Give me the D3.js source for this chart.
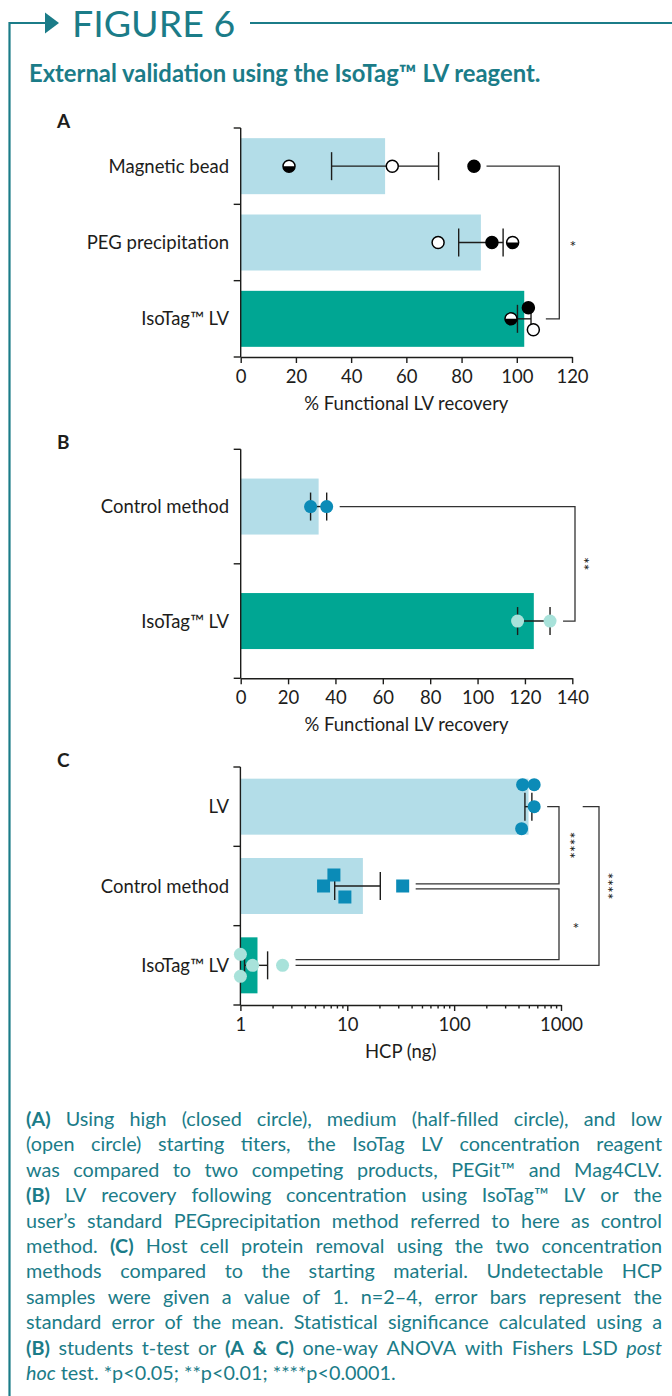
<!DOCTYPE html>
<html>
<head>
<meta charset="utf-8">
<script src="https://cdn.jsdelivr.net/npm/d3@7"></script>
<style>
  html, body { margin: 0; padding: 0; background: #fff; }
  svg { display: block; font-family: Lato, "Open Sans", sans-serif; }
</style>
</head>
<body>
<svg id="fig" width="672" height="1396"></svg>
<script>
// ---------- data ----------
// A: % functional LV recovery, one value per starting titer (high, medium, low)
var catsA = ["Magnetic bead", "PEG precipitation", "IsoTag™ LV"];
var titers = ["high", "medium", "low"];
var recoveryA = [[84.5, 17.5, 54.9], [91, 98.5, 71.5], [104.2, 97.9, 106]];
var ticksA = [0, 20, 40, 60, 80, 100, 120];
var sigA = [{ a: 0, b: 2, label: "*" }];

// B: % functional LV recovery
var catsB = ["Control method", "IsoTag™ LV"];
var recoveryB = [[29.5, 36.3], [116.9, 130.6]];
var ticksB = [0, 20, 40, 60, 80, 100, 120, 140];
var sigB = [{ a: 0, b: 1, label: "**" }];

// C: host cell protein (ng), undetectable = 1
var catsC = ["LV", "Control method", "IsoTag™ LV"];
var hcpC = [[437, 561, 561, 428], [7.5, 6, 9.5, 33], [1, 1.3, 1, 2.48]];
var ticksC = [1, 10, 100, 1000];
var sigC = [{ a: 0, b: 1, label: "****" }, { a: 1, b: 2, label: "*" }, { a: 0, b: 2, label: "****" }];

var captionLines = [
  "[(A)] Using high (closed circle), medium (half-filled circle), and low",
  "(open circle) starting titers, the IsoTag LV concentration reagent",
  "was compared to two competing products, PEGit™ and Mag4CLV.",
  "[(B)] LV recovery following concentration using IsoTag™ LV or the",
  "user’s standard PEGprecipitation method referred to here as control",
  "method. [(C)] Host cell protein removal using the two concentration",
  "methods compared to the starting material. Undetectable HCP",
  "samples were given a value of 1. n=2–4, error bars represent the",
  "standard error of the mean. Statistical significance calculated using a",
  "[(B)] students t-test or [(A & C)] one-way ANOVA with Fishers LSD {post}",
  "{hoc} test. *p<0.05; **p<0.01; ****p<0.0001."
];

// ---------- style ----------
var teal = "#1b7c88", ink = "#1d1d1b";
var lightBar = "#b3dde8", tealBar = "#00a693", blue = "#0b8bb7", mint = "#a8e2da";
var barH = 56, capHalf = 14, laneStep = 11, fontSize = 18.5;

var svg = d3.select("#fig");

// header
svg.append("path").attr("d", "M9.5,1396V23H47")
  .attr("fill", "none").attr("stroke", teal).attr("stroke-width", 2.2);
svg.append("path").attr("d", "M45,12.5L59,23L45,33.5Z").attr("fill", teal);
svg.append("text").attr("x", 72).attr("y", 37)
  .attr("font-size", 37.5).attr("font-weight", 400).attr("fill", teal).text("FIGURE 6");
svg.append("line").attr("x1", 250).attr("x2", 672).attr("y1", 23).attr("y2", 23)
  .attr("stroke", teal).attr("stroke-width", 2.2);
svg.append("text").attr("x", 29).attr("y", 82)
  .attr("font-size", 23.8).attr("font-weight", 700).attr("fill", teal)
  .text("External validation using the IsoTag™ LV reagent.");

// ---------- markers ----------
function marker(g, d, cx, cy, r) {
  if (d.shape === "square") {
    g.append("rect").attr("x", cx - r).attr("y", cy - r)
      .attr("width", 2 * r).attr("height", 2 * r).attr("fill", d.color);
  } else if (d.shape === "dot") {
    g.append("circle").attr("cx", cx).attr("cy", cy).attr("r", r).attr("fill", d.color);
  } else {
    // titer markers: filled / half / open
    g.append("circle").attr("cx", cx).attr("cy", cy).attr("r", r)
      .attr("fill", d.shape === "high" ? "#000" : "#fff");
    if (d.shape === "medium") {
      g.append("path")
        .attr("d", "M" + (cx - r) + "," + cy + "A" + r + "," + r + " 0 0 0 " + (cx + r) + "," + cy + "Z")
        .attr("fill", "#000");
    }
    g.append("circle").attr("cx", cx).attr("cy", cy).attr("r", r)
      .attr("fill", "none").attr("stroke", "#000").attr("stroke-width", 1.5);
  }
}

// ---------- panel ----------
function drawPanel(p) {
  var g = svg.append("g").attr("font-size", fontSize).attr("fill", ink);
  var y = d3.scaleBand().domain(p.cats).range([p.top, p.bottom]);
  var bw = y.bandwidth();
  var x = p.x;
  var x0 = x.range()[0];
  var cy = function (i) { return y(p.cats[i]) + bw / 2; };

  var stats = p.values.map(function (v) {
    var m = d3.mean(v);
    var s = d3.deviation(v) / Math.sqrt(v.length);
    return { mean: m, lo: m - s, hi: m + s };
  });

  // panel letter
  g.append("text").attr("x", 57).attr("y", p.letterY)
    .attr("font-size", 19).attr("font-weight", 700).text(p.letter);

  // bars
  g.selectAll("rect.bar").data(stats).join("rect").attr("class", "bar")
    .attr("x", x0).attr("y", function (d, i) { return cy(i) - barH / 2; })
    .attr("width", function (d) { return x(d.mean) - x0; })
    .attr("height", barH)
    .attr("fill", function (d, i) { return p.barColors[i]; });

  // x axis
  var ax = g.append("g").attr("transform", "translate(0," + p.bottom + ")")
    .call(p.axis);
  ax.select(".domain").attr("stroke", ink).attr("stroke-width", 1.4);
  ax.selectAll(".tick line").attr("stroke", ink).attr("stroke-width", 1.4);
  ax.selectAll(".tick text").attr("font-size", fontSize).attr("fill", ink)
    .attr("font-family", "Lato, sans-serif");
  if (p.minor) p.minor(ax);
  g.append("text").attr("x", (x.range()[0] + x.range()[1]) / 2).attr("y", p.bottom + 53)
    .attr("text-anchor", "middle").text(p.title);

  // y axis with ticks at band edges
  g.append("line").attr("x1", x0).attr("x2", x0).attr("y1", p.top).attr("y2", p.bottom)
    .attr("stroke", ink).attr("stroke-width", 1.4);
  var edges = p.cats.map(function (c) { return y(c); }).concat([p.bottom]);
  g.selectAll("line.ytick").data(edges).join("line").attr("class", "ytick")
    .attr("x1", x0 - 7).attr("x2", x0).attr("y1", function (d) { return d; })
    .attr("y2", function (d) { return d; })
    .attr("stroke", ink).attr("stroke-width", 1.4);
  g.selectAll("text.cat").data(p.cats).join("text").attr("class", "cat")
    .attr("x", 229).attr("y", function (d, i) { return cy(i) + 6.5; })
    .attr("text-anchor", "end").text(function (d) { return d; });

  // error bars (mean ± SEM)
  stats.forEach(function (s, i) {
    var yy = cy(i);
    var e = g.append("g").attr("stroke", ink).attr("stroke-width", 1.4);
    e.append("line").attr("x1", x(s.lo)).attr("x2", x(s.hi)).attr("y1", yy).attr("y2", yy);
    [s.lo, s.hi].forEach(function (v) {
      e.append("line").attr("x1", x(v)).attr("x2", x(v))
        .attr("y1", yy - capHalf).attr("y2", yy + capHalf);
    });
  });

  // points
  var pts = g.append("g");
  p.values.forEach(function (vals, i) {
    vals.forEach(function (v, j) {
      var d = p.pointStyle(i, j);
      marker(pts, d, x(v), cy(i) + p.lanes[i][j] * laneStep, p.r);
    });
  });

  // right edge of each row (for bracket start)
  var rowEnd = p.values.map(function (vals, i) {
    return Math.max(d3.max(vals, function (v) { return x(v); }), x(stats[i].hi)) + p.r + 6.5;
  });

  // significance brackets
  var bg = g.append("g");
  p.sig.forEach(function (s, k) {
    var L = p.brk[k];
    var ya = cy(s.a) + (L.dya || 0), yb = cy(s.b) + (L.dyb || 0);
    var xa = L.xa || rowEnd[s.a], xb = L.xb || rowEnd[s.b];
    bg.append("path")
      .attr("d", "M" + xa + "," + ya + "H" + L.x + "V" + yb + "H" + xb)
      .attr("fill", "none").attr("stroke", "#333").attr("stroke-width", 1.3);
    var mid = (ya + yb) / 2, fs = 16;
    var t = bg.append("text").attr("font-size", fs).attr("text-anchor", "middle").text(s.label);
    if (s.label.length > 1) {
      t.attr("transform", "translate(" + (L.sx - fs * 0.6) + "," + mid + ") rotate(90)");
    } else {
      t.attr("x", L.sx).attr("y", mid + fs * 0.6);
    }
  });
}

// ---------- A ----------
var xA = d3.scaleLinear().domain([0, 120]).range([240.7, 572]);
drawPanel({
  letter: "A", letterY: 128, cats: catsA, values: recoveryA, top: 128, bottom: 357, x: xA,
  axis: d3.axisBottom(xA).tickValues(ticksA).tickSize(6).tickPadding(6.5).tickSizeOuter(0),
  title: "% Functional LV recovery",
  barColors: [lightBar, lightBar, tealBar], r: 6,
  pointStyle: function (i, j) { return { shape: titers[j] }; },
  lanes: [[0, 0, 0], [0, 0, 0], [-1, 0, 1]],
  sig: sigA, brk: [{ x: 559.3, sx: 573 }]
});

// ---------- B ----------
var xB = d3.scaleLinear().domain([0, 140]).range([240.7, 572.3]);
drawPanel({
  letter: "B", letterY: 448.5, cats: catsB, values: recoveryB, top: 449.3, bottom: 678.3, x: xB,
  axis: d3.axisBottom(xB).tickValues(ticksB).tickSize(6).tickPadding(6.5).tickSizeOuter(0),
  title: "% Functional LV recovery",
  barColors: [lightBar, tealBar], r: 6.5,
  pointStyle: function (i) { return { shape: "dot", color: i === 0 ? blue : mint }; },
  lanes: [[0, 0], [0, 0]],
  sig: sigB, brk: [{ x: 575, sx: 588 }]
});

// ---------- C ----------
var xC = d3.scaleLog().domain([1, 1000]).range([240.4, 561]);
drawPanel({
  letter: "C", letterY: 766.5, cats: catsC, values: hcpC, top: 767, bottom: 1005, x: xC,
  axis: d3.axisBottom(xC).tickValues(xC.ticks()).tickSize(6).tickPadding(6.5).tickSizeOuter(0)
    .tickFormat(function (d) { return ticksC.indexOf(d) >= 0 ? d3.format("d")(d) : ""; }),
  minor: function (ax) {
    ax.selectAll(".tick line").attr("y2", function (d) { return ticksC.indexOf(d) >= 0 ? 6 : 3.5; });
  },
  title: "HCP (ng)",
  barColors: [lightBar, lightBar, tealBar], r: 6.5,
  pointStyle: function (i) {
    return i === 1 ? { shape: "square", color: blue } : { shape: "dot", color: i === 0 ? blue : mint };
  },
  lanes: [[-2, -2, 0, 2], [-1, 0, 1, 0], [-1, 0, 1, 0]],
  sig: sigC,
  brk: [
    { x: 559, sx: 574, dyb: -2.2 },
    { x: 559, sx: 576, dya: 2.8, dyb: -5.7 },
    { x: 599, sx: 612, xa: 582.7 }
  ]
});

// ---------- caption (justified lines, one text per word) ----------
var capX = 26, capW = 636, capY0 = 1126, capStep = 25.4, capSize = 19.8;
var cap = svg.append("g").attr("fill", teal).attr("font-size", capSize);

var probe = cap.append("text");
var w2 = probe.text("x x").node().getComputedTextLength();
var w1 = probe.text("xx").node().getComputedTextLength();
var spaceW = w2 - w1;
probe.remove();

function parseWords(line) {
  var bold = false, ital = false;
  return line.split(" ").map(function (w) {
    if (w[0] === "[") { bold = true; w = w.slice(1); }
    if (w[0] === "{") { ital = true; w = w.slice(1); }
    var d = { b: bold, i: ital };
    if (w[w.length - 1] === "]") { bold = false; w = w.slice(0, -1); }
    if (w[w.length - 1] === "}") { ital = false; w = w.slice(0, -1); }
    d.t = w;
    return d;
  });
}

captionLines.forEach(function (line, li) {
  var words = parseWords(line);
  var row = cap.append("g");
  var texts = row.selectAll("text").data(words).join("text")
    .attr("y", capY0 + li * capStep)
    .attr("font-weight", function (d) { return d.b ? 700 : 400; })
    .attr("font-style", function (d) { return d.i ? "italic" : null; })
    .text(function (d) { return d.t; });
  var widths = texts.nodes().map(function (n) { return n.getComputedTextLength(); });
  var last = li === captionLines.length - 1;
  var gap = last ? spaceW : (capW - d3.sum(widths)) / (words.length - 1);
  var pos = capX;
  texts.attr("x", function (d, k) { var v = pos; pos += widths[k] + gap; return v; });
});
</script>
</body>
</html>
